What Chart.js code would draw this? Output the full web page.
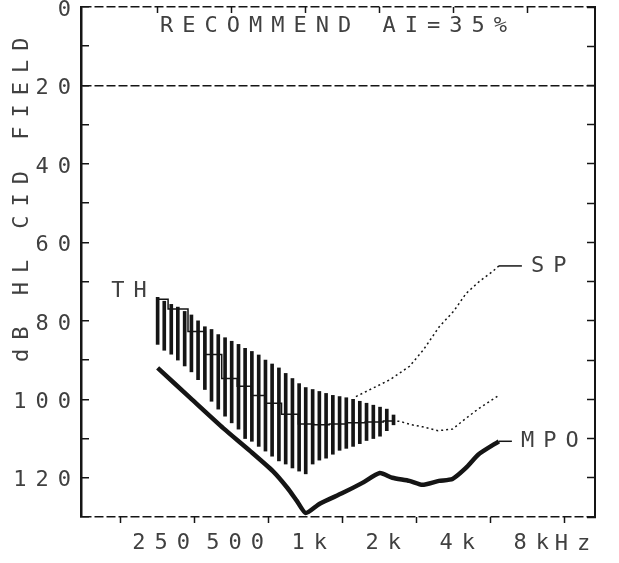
<!DOCTYPE html>
<html>
<head>
<meta charset="utf-8">
<title>Hearing aid fitting</title>
<script src="https://cdn.jsdelivr.net/npm/chart.js@4.4.1/dist/chart.umd.min.js"></script>
<style>
  html, body { margin: 0; padding: 0; background: #fff; }
  #fitChart { display: block; }
</style>
</head>
<body>
<canvas id="fitChart" width="619" height="563"></canvas>
<script>
// Hearing aid fitting printout: threshold band, SP and MPO curves

// --- Axes ---
const freqTicks = [250, 500, 1000, 2000, 4000, 8000];
const freqTickLabels = ['250', '500', '1k', '2k', '4k', '8k'];
const levelTicks = [0, 10, 20, 30, 40, 50, 60, 70, 80, 90, 100, 110, 120, 130];
const levelTickLabels = ['0', '', '20', '', '40', '', '60', '', '80', '', '100', '', '120', ''];

// --- Threshold band (hatched bars from TH down to the lower edge) ---
const bandFreqs = [250, 266, 284, 302, 322, 343, 365, 389, 414, 441, 470, 500, 533, 567, 604, 644, 686, 730,
    778, 829, 883, 940, 1000, 1067, 1136, 1210, 1289, 1373, 1462, 1558, 1659, 1767, 1883, 2005, 2136, 2275];
const thLevels = [74, 75, 75.8, 76.5, 77.6, 78.5, 80, 81.5, 82.2, 83.5, 84.3, 85.2, 86, 87, 87.8, 88.7, 90, 91,
    92, 93.4, 94.7, 96, 97, 97.5, 98, 98.5, 99, 99.3, 99.6, 100, 100.5, 101, 101.5, 102, 102.5, 104];
const bandBottom = [86, 87.5, 88.5, 90, 91.5, 93, 95, 97.5, 100.5, 102.5, 104.3, 106, 107.6, 110, 110.7, 112, 113.2, 114.5,
    115.7, 116.5, 117.5, 118.3, 119, 116.5, 115.5, 115, 114, 113, 112.5, 112, 111.3, 110.5, 110, 109.4, 108, 106.5];

// --- Middle curve: stepped inside the band, dotted past it ---
const midFreqs = [250, 304, 363, 421, 493, 562, 641, 737, 863, 1008, 1150, 1350, 1600, 1900, 2250];
const midLevels = [74.5, 77, 82.7, 88.6, 94.7, 96.7, 99, 101, 103.8, 106.3, 106.5, 106.3, 106, 105.8, 105.5];
const tailFreqs = [2250, 2405, 2700, 2980, 3450, 3950, 4490, 5070, 6100];
const tailLevels = [105.5, 105.6, 106.5, 107, 108, 107.6, 104.8, 102.3, 99];

// --- SP (dotted) and MPO (heavy) ---
const spFreqs = [1600, 1870, 2200, 2640, 3000, 3490, 4000, 4490, 5070, 5730, 6100];
const spLevels = [99.3, 97.2, 95, 91.6, 87.5, 81.5, 77.5, 73, 70, 67.5, 66];
const mpoFreqs = [250, 340, 463, 595, 735, 843, 920, 1000, 1140, 1410, 1700, 2000, 2250, 2640, 2980, 3480, 3950, 4480, 5050, 6100];
const mpoLevels = [92, 99.7, 107.4, 113.2, 118.3, 122.6, 125.9, 129, 126.6, 123.9, 121.3, 118.8, 120, 120.8, 121.8, 120.8, 120.3, 117.5, 114, 110.7];

const INK = '#151515';
const TEXT = '#404040';
const MONO = "'DejaVu Sans Mono', monospace";
const FONT = { family: MONO, size: 22 };
const PITCH_GAP = '9px';

const pairs = (xs, ys) => xs.map((x, i) => ({ x: x, y: ys[i] }));

// labels hung on the curve ends
const curveNotes = [
    { text: 'TH', freq: bandFreqs[0], level: thLevels[0], align: 'right', dx: -2, dy: -6, lead: 0 },
    { text: 'SP', freq: spFreqs[spFreqs.length - 1], level: spLevels[spLevels.length - 1], align: 'left', dx: 0, dy: 0, lead: 23 },
    { text: 'MPO', freq: mpoFreqs[mpoFreqs.length - 1], level: mpoLevels[mpoLevels.length - 1], align: 'left', dx: 0, dy: 0, lead: 13 }
];

const printText = {
    id: 'printText',
    beforeDraw(chart) {
        // wide printer pitch for every string on the sheet
        chart.ctx.letterSpacing = PITCH_GAP;
    },
    afterDatasetsDraw(chart) {
        const { ctx, chartArea, scales } = chart;
        ctx.save();
        ctx.font = `22px ${MONO}`;
        ctx.fillStyle = TEXT;
        ctx.textBaseline = 'middle';

        ctx.textAlign = 'center';
        ctx.fillText('RECOMMEND AI=35%', (chartArea.left + chartArea.right) / 2, chartArea.top + 19);

        curveNotes.forEach(note => {
            let x = scales.x.getPixelForValue(note.freq);
            const y = scales.y.getPixelForValue(note.level) + note.dy;
            if (note.lead) {
                ctx.strokeStyle = INK;
                ctx.lineWidth = 1.5;
                ctx.beginPath();
                ctx.moveTo(x, y);
                ctx.lineTo(x + note.lead, y);
                ctx.stroke();
                x += note.lead + 9;
            }
            ctx.textAlign = note.align;
            ctx.fillText(note.text, x + note.dx, y);
        });

        ctx.textAlign = 'left';
        ctx.fillText('Hz', scales.x.getPixelForValue(8000) + 27, chartArea.bottom + 27);
        ctx.restore();
    }
};

// fixed frame: no extra room for half-labels at the ends
const levelAxis = (position, width) => ({
    type: 'linear',
    position: position,
    reverse: true,
    min: 0,
    max: 130,
    afterBuildTicks: s => { s.ticks = levelTicks.map(v => ({ value: v })); },
    afterFit: s => { s.width = width; s.paddingTop = 0; s.paddingBottom = 0; }
});

const freqAxis = (position, height) => ({
    type: 'logarithmic',
    position: position,
    min: 122,
    max: 15000,
    afterBuildTicks: s => { s.ticks = freqTicks.map(v => ({ value: v })); },
    afterFit: s => { s.height = height; s.paddingLeft = 0; s.paddingRight = 0; }
});

new Chart(document.getElementById('fitChart'), {
    type: 'line',
    data: {
        datasets: [
            {
                type: 'bar',
                label: 'TH',
                data: bandFreqs.map((f, i) => ({ x: f, y: [thLevels[i], bandBottom[i]] })),
                backgroundColor: INK,
                borderWidth: 0,
                barThickness: 3
            },
            {
                label: 'mid',
                data: pairs(midFreqs, midLevels),
                stepped: 'middle',
                borderColor: INK,
                borderWidth: 1.5,
                pointRadius: 0
            },
            {
                label: 'tail',
                data: pairs(tailFreqs, tailLevels),
                borderColor: INK,
                borderWidth: 1.5,
                borderDash: [2, 3],
                pointRadius: 0
            },
            {
                label: 'SP',
                data: pairs(spFreqs, spLevels),
                borderColor: INK,
                borderWidth: 1.5,
                borderDash: [2, 3],
                pointRadius: 0
            },
            {
                label: 'MPO',
                data: pairs(mpoFreqs, mpoLevels),
                borderColor: INK,
                borderWidth: 4.5,
                tension: 0.2,
                pointRadius: 0
            }
        ]
    },
    options: {
        responsive: false,
        animation: false,
        events: [],
        layout: { padding: 0 },
        plugins: {
            legend: { display: false },
            tooltip: { enabled: false }
        },
        scales: {
            x: Object.assign(freqAxis('bottom', 46), {
                ticks: {
                    autoSkip: false,
                    maxRotation: 0,
                    padding: 7,
                    labelOffset: 8,
                    color: TEXT,
                    font: FONT,
                    callback: (v, i) => freqTickLabels[i]
                },
                grid: { drawOnChartArea: false, tickLength: 6, tickColor: INK, tickWidth: 1.5 },
                border: { display: false }
            }),
            xTop: Object.assign(freqAxis('top', 7), {
                ticks: { display: false },
                grid: { drawOnChartArea: false, tickLength: -6, tickColor: INK, tickWidth: 1.5 },
                border: { display: false }
            }),
            y: Object.assign(levelAxis('left', 81), {
                ticks: {
                    autoSkip: false,
                    padding: 9,
                    labelOffset: 3,
                    color: TEXT,
                    font: FONT,
                    callback: (v, i) => levelTickLabels[i]
                },
                grid: {
                    // only the frame top/bottom and the 20 dB reference are ruled
                    color: ctx => [0, 20, 130].includes(ctx.tick.value) ? INK : 'transparent',
                    lineWidth: 1.5,
                    tickLength: -8,
                    tickColor: INK,
                    tickWidth: 1.5
                },
                border: { display: true, color: INK, width: 2.5, dash: [9, 3] },
                title: {
                    // reads bottom-to-top; leading blanks lift it toward the top of the frame
                    display: true,
                    text: '      dB HL CID FIELD',
                    align: 'center',
                    color: TEXT,
                    font: FONT,
                    padding: { top: 9, bottom: 0 }
                }
            }),
            yRight: Object.assign(levelAxis('right', 24), {
                ticks: { display: false },
                grid: { drawOnChartArea: false, tickLength: -8, tickColor: INK, tickWidth: 1.5 },
                border: { display: true, color: INK, width: 2 }
            })
        }
    },
    plugins: [printText]
});
</script>
</body>
</html>
